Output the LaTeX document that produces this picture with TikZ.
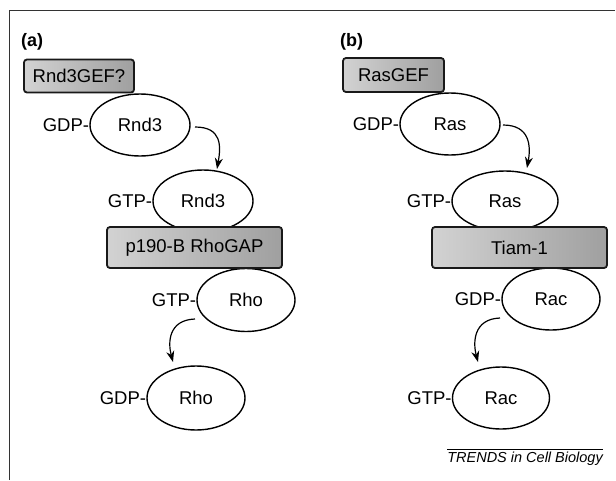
\documentclass[tikz,border=0pt]{standalone}
\usepackage{fontspec}
\setmainfont{Liberation Sans}
\usetikzlibrary{arrows.meta,calc,shapes.geometric}
\begin{document}
\begin{tikzpicture}[x=1pt,y=-1pt,
  prot/.style={draw=black,line width=1.4pt,fill=white,ellipse,inner sep=0pt,
    minimum width=100pt,minimum height=62pt,font=\fontsize{18.5}{20}\selectfont},
  enz/.style={draw=black!90,line width=1.8pt,rounded corners=3pt,
    left color=gray!35,right color=gray!75,inner sep=0pt,
    font=\fontsize{18.5}{20}\selectfont},
  nuc/.style={anchor=east,inner sep=0pt,font=\fontsize{18.5}{20}\selectfont},
  panel/.style={font=\bfseries\fontsize{18}{20}\selectfont,anchor=west,inner sep=0pt},
  arr/.style={line width=1.2pt,-{Stealth[length=11pt,width=8pt]}},
  frame/.style={line width=1pt,black!80}]
\useasboundingbox (0,0) rectangle (616,480);
\draw[frame] (9,480) -- (9,10) -- (615,10);

% panel (a)
\node[panel] (la) at (21,42) {(a)};
\node[prot] (r1) at (140,125) {Rnd3};
\node[prot] (r2) at (203,201) {Rnd3};
\node[prot,minimum width=98pt,minimum height=63pt] (rho1) at (246,300) {Rho};
\node[prot,minimum width=98pt,minimum height=64pt] (rho2) at (196,398) {Rho};
\node[enz,minimum width=110pt,minimum height=33pt] (gefa) at (79,76) {Rnd3GEF?};
\node[enz,minimum width=175pt,minimum height=41pt] (gap) at (194.5,247.5) {p190-B RhoGAP};
\node[nuc] (g1) at (r1.west) {GDP-};
\node[nuc] (g2) at (r2.west) {GTP-};
\node[nuc] (g3) at (rho1.west) {GTP-};
\node[nuc] (g4) at (rho2.west) {GDP-};
\draw[arr] ($(r1.center)+(55,2)$) .. controls ($(r1.center)+(82,2)$) and ($(r2.center)+(18,-55)$) .. ($(r2.center)+(14,-32)$);
\draw[arr] ($(rho1.center)+(-51,19)$) .. controls ($(rho1.center)+(-78,20)$) and ($(rho2.center)+(-28,-55)$) .. ($(rho2.center)+(-23,-36)$);

% panel (b)
\node[panel] (lb) at (340,42) {(b)};
\node[prot] (ras1) at (450,124) {Ras};
\node[prot,minimum width=106pt,minimum height=60pt] (ras2) at (505,201) {Ras};
\node[prot,minimum width=98pt] (rac1) at (551,299) {Rac};
\node[prot,minimum width=97pt] (rac2) at (501,398) {Rac};
\node[enz,minimum width=101pt,minimum height=34pt] (gefb) at (393.5,75) {RasGEF};
\node[enz,minimum width=175pt,minimum height=41pt] (tiam) at (519.5,247.5) {Tiam-1};
\node[nuc] (h1) at (ras1.west) {GDP-};
\node[nuc] (h2) at (ras2.west) {GTP-};
\node[nuc] (h3) at (rac1.west) {GDP-};
\node[nuc] (h4) at (rac2.west) {GTP-};
\draw[arr] ($(ras1.center)+(53,1)$) .. controls ($(ras1.center)+(80,1)$) and ($(ras2.center)+(26,-55)$) .. ($(ras2.center)+(22,-33)$);
\draw[arr] ($(rac1.center)+(-51,19)$) .. controls ($(rac1.center)+(-78,20)$) and ($(rac2.center)+(-28,-55)$) .. ($(rac2.center)+(-23,-36)$);

% credit
\draw[line width=0.8pt] (447,449) -- (603,449);
\node[anchor=north east,inner sep=0pt,font=\itshape\fontsize{14.5}{16}\selectfont] (credit) at (603,452) {TRENDS in Cell Biology};
\end{tikzpicture}
\end{document}
